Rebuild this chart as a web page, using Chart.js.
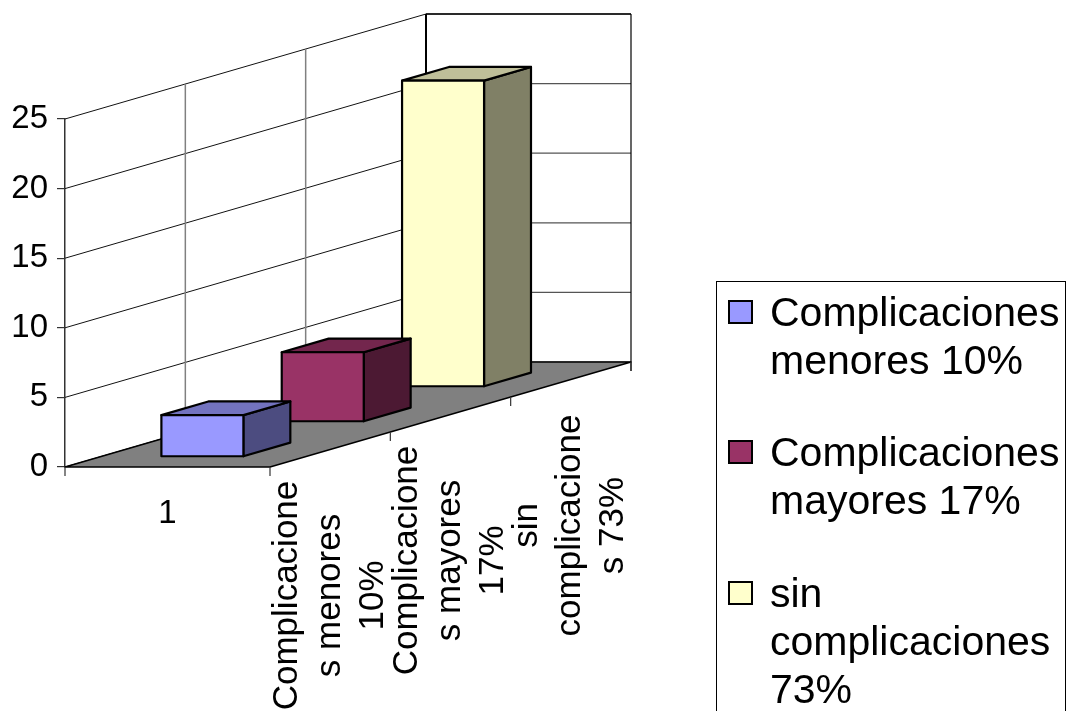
<!DOCTYPE html>
<html>
<head>
<meta charset="utf-8">
<title>Complicaciones</title>
<script src="https://cdn.jsdelivr.net/npm/chart.js@4/dist/chart.umd.min.js"></script>
<style>
  html, body { margin: 0; padding: 0; background: #ffffff; }
  #wrap { position: relative; width: 1070px; height: 711px; overflow: hidden; }
  canvas { position: absolute; left: 0; top: 0; }
  #legend {
    position: absolute; left: 716px; top: 281px; width: 350px; height: 460px;
    border: 1px solid #000; box-sizing: border-box;
    font-family: "Liberation Sans", Arial, sans-serif; font-size: 41px; line-height: 48px; color: #000;
  }
  .item { position: absolute; left: 0; width: 340px; }
  .swatch { position: absolute; left: 11px; top: 12px; width: 25px; height: 24px; box-sizing: border-box; border: 2px solid #000; }
  .txt { position: absolute; left: 53px; width: 296px; white-space: normal; }
</style>
</head>
<body>
<div id="wrap">
  <canvas id="c" width="1070" height="711"></canvas>
  <div id="legend"></div>
</div>
<script>
// Category on the horizontal axis
const categories = ['1'];
// Series names (legend)
const seriesNames = ['Complicaciones menores 10%', 'Complicaciones mayores 17%', 'sin complicaciones 73%'];
// Series values
const menores = [3];
const mayores = [5];
const sinComplicaciones = [22];
// Labels of the depth (series) axis, already wrapped
const depthTickLabels = [
  ['Complicacione', 's menores', '10%'],
  ['Complicacione', 's mayores', '17%'],
  ['sin', 'complicacione', 's 73%']
];
// Value axis ticks
const yMin = 0, yMax = 25, yStep = 5;

// Face colours: front, top, side
const faceColors = [
  ['#9999FF', '#7373BF', '#4C4C80'],
  ['#993366', '#73264D', '#4C1933'],
  ['#FFFFCC', '#BFBF99', '#808066']
];

// Oblique projection of the depth axis (whole floor depth)
const DEPTH_X = 361, DEPTH_Y = -105;
// Position and thickness of each box inside its depth slot
const SLOT_FRONT = 0.29, SLOT_DEPTH = 0.39;

const FONT = '"Liberation Sans", Arial, sans-serif';

function line(ctx, x0, y0, x1, y1, color, w) {
  ctx.beginPath();
  ctx.moveTo(x0, y0);
  ctx.lineTo(x1, y1);
  ctx.strokeStyle = color;
  ctx.lineWidth = w;
  ctx.stroke();
}

function poly(ctx, pts, fill, stroke, w) {
  ctx.beginPath();
  ctx.moveTo(pts[0][0], pts[0][1]);
  for (let k = 1; k < pts.length; k++) ctx.lineTo(pts[k][0], pts[k][1]);
  ctx.closePath();
  if (fill) { ctx.fillStyle = fill; ctx.fill(); }
  if (stroke) { ctx.strokeStyle = stroke; ctx.lineWidth = w; ctx.lineJoin = 'round'; ctx.stroke(); }
}

const box3d = {
  id: 'box3d',
  beforeDatasetsDraw(chart) {
    const ctx = chart.ctx;
    const { left, right, top, bottom } = chart.chartArea;
    const yScale = chart.scales.y;
    const n = chart.data.datasets.length;
    const sx = DEPTH_X / n, sy = DEPTH_Y / n;
    ctx.save();

    // back wall gridlines
    yScale.ticks.forEach(t => {
      const py = yScale.getPixelForValue(t.value) + DEPTH_Y;
      line(ctx, left + DEPTH_X, py, right + DEPTH_X, py, '#555555', 1.2);
    });
    // left wall gridlines (slanted)
    yScale.ticks.forEach(t => {
      const py = yScale.getPixelForValue(t.value);
      line(ctx, left, py, left + DEPTH_X, py + DEPTH_Y, '#111111', 1);
    });
    // left wall depth gridlines
    for (let k = 1; k < n; k++) {
      line(ctx, left + sx * k, top + sy * k, left + sx * k, bottom + sy * k, '#808080', 1.5);
    }
    // wall outlines
    line(ctx, left + DEPTH_X, top + DEPTH_Y, right + DEPTH_X, top + DEPTH_Y, '#000', 1.5);
    line(ctx, right + DEPTH_X, top + DEPTH_Y, right + DEPTH_X, bottom + DEPTH_Y + 9, '#000', 1.2);
    line(ctx, left + DEPTH_X, top + DEPTH_Y, left + DEPTH_X, bottom + DEPTH_Y, '#000', 2);

    // floor
    poly(ctx, [[left, bottom], [right, bottom], [right + DEPTH_X, bottom + DEPTH_Y], [left + DEPTH_X, bottom + DEPTH_Y]],
      '#808080', '#000', 1.5);

    // category axis ticks
    line(ctx, left, bottom, left, bottom + 9, '#333', 1.2);
    // depth axis ticks
    for (let k = 0; k <= n; k++) {
      const px = right + sx * k, py = bottom + sy * k;
      line(ctx, px, py, px, py + 9, '#333', 1.2);
    }

    // depth axis labels, rotated
    ctx.fillStyle = '#000';
    ctx.font = '35px ' + FONT;
    ctx.textAlign = 'center';
    ctx.textBaseline = 'middle';
    depthTickLabels.forEach((lines, i) => {
      const cx = right + sx * (i + 0.5);
      const cy = bottom + sy * (i + 0.5) + 146;
      lines.forEach((s, j) => {
        const lx = cx + (j - (lines.length - 1) / 2) * 43;
        ctx.save();
        ctx.translate(lx, cy);
        ctx.rotate(-Math.PI / 2);
        ctx.fillText(s, 0, 0);
        ctx.restore();
      });
    });

    // boxes, drawn from the back to the front
    for (let i = n - 1; i >= 0; i--) {
      const meta = chart.getDatasetMeta(i);
      const cols = faceColors[i];
      meta.data.forEach(bar => {
        const p = bar.getProps(['x', 'y', 'base', 'width'], true);
        const ox = sx * (i + SLOT_FRONT), oy = sy * (i + SLOT_FRONT);
        const tx = sx * SLOT_DEPTH, ty = sy * SLOT_DEPTH;
        const x0 = p.x - p.width / 2 + ox, x1 = p.x + p.width / 2 + ox;
        const y0 = Math.min(p.y, p.base) + oy, y1 = Math.max(p.y, p.base) + oy;
        // side
        poly(ctx, [[x1, y0], [x1 + tx, y0 + ty], [x1 + tx, y1 + ty], [x1, y1]], cols[2], '#000', 2.2);
        // top
        poly(ctx, [[x0, y0], [x0 + tx, y0 + ty], [x1 + tx, y0 + ty], [x1, y0]], cols[1], '#000', 2.2);
        // front
        poly(ctx, [[x0, y0], [x1, y0], [x1, y1], [x0, y1]], cols[0], '#000', 2.2);
      });
    }
    ctx.restore();
    return false;
  }
};

const chart = new Chart(document.getElementById('c'), {
  type: 'bar',
  data: {
    labels: categories,
    datasets: [
      { label: seriesNames[0], data: menores, backgroundColor: faceColors[0][0] },
      { label: seriesNames[1], data: mayores, backgroundColor: faceColors[1][0] },
      { label: seriesNames[2], data: sinComplicaciones, backgroundColor: faceColors[2][0] }
    ]
  },
  options: {
    responsive: false,
    animation: false,
    events: [],
    grouped: false,
    barPercentage: 0.4,
    categoryPercentage: 1,
    layout: { padding: { top: 119, left: 0, right: 800, bottom: 184 } },
    plugins: { legend: { display: false }, tooltip: { enabled: false } },
    scales: {
      x: {
        grid: { display: false },
        border: { display: false },
        ticks: { color: '#000', font: { family: FONT, size: 33 }, padding: 19 },
        afterFit(s) { s.height = 60; }
      },
      y: {
        min: yMin,
        max: yMax,
        ticks: { stepSize: yStep, color: '#000', font: { family: FONT, size: 33 }, padding: 9 },
        grid: { drawOnChartArea: false, drawTicks: true, tickLength: 8, color: '#333', lineWidth: 1.2 },
        border: { display: true, color: '#333', width: 1.5 },
        afterFit(s) { s.width = 65; }
      }
    }
  },
  plugins: [box3d]
});

// legend built from the chart datasets
(function buildLegend() {
  const legend = document.getElementById('legend');
  const tops = [6, 146, 287];
  chart.data.datasets.forEach((ds, i) => {
    const item = document.createElement('div');
    item.className = 'item';
    item.style.top = tops[i] + 'px';
    const sw = document.createElement('div');
    sw.className = 'swatch';
    sw.style.background = ds.backgroundColor;
    const tx = document.createElement('div');
    tx.className = 'txt';
    tx.textContent = ds.label;
    item.appendChild(sw);
    item.appendChild(tx);
    legend.appendChild(item);
  });
})();
</script>
</body>
</html>
